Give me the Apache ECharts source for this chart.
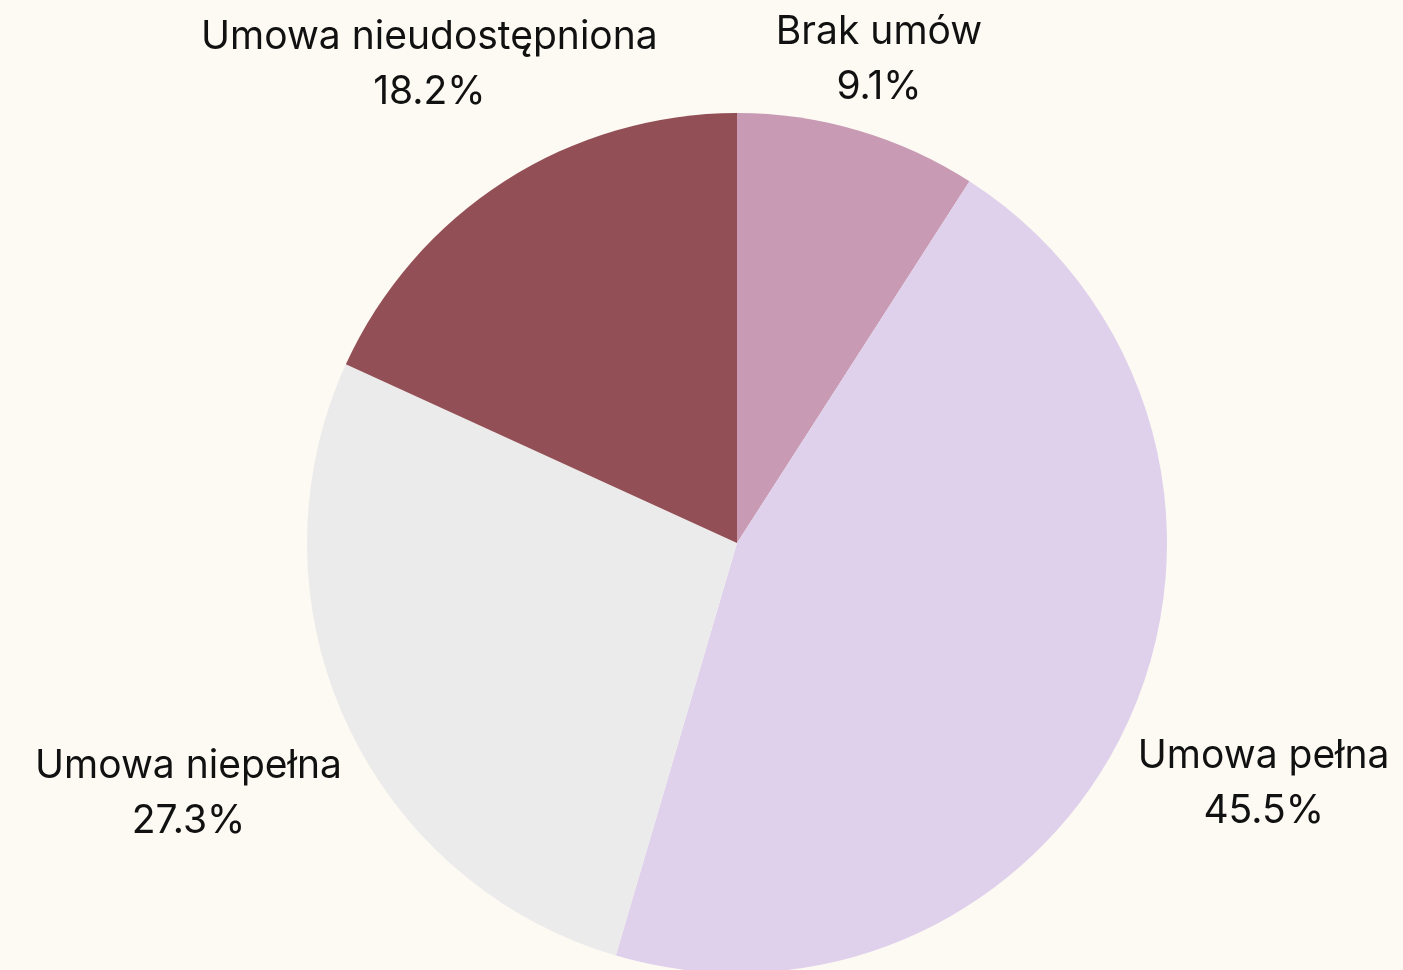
<!DOCTYPE html>
<html>
<head>
<meta charset="utf-8">
<script src="https://cdn.jsdelivr.net/npm/echarts@6/dist/echarts.min.js"></script>
<style>
  html, body { margin: 0; padding: 0; background: #fdfaf3; }
  #chart { width: 1403px; height: 970px; }
</style>
</head>
<body>
<div id="chart"></div>
<script>
// dane
const categories = ["Brak umów", "Umowa pełna", "Umowa niepełna", "Umowa nieudostępniona"];
const values = [1, 5, 3, 2];
const colors = ["#c89ab3", "#dfd1ec", "#ecebeb", "#924f56"];

const CX = 737, CY = 543, R = 430, GAP = 20;
const total = values.reduce((a, b) => a + b, 0);

// kat srodka wycinka (od gory, zgodnie z ruchem wskazowek)
function midAngle(i) {
  let before = 0;
  for (let k = 0; k < i; k++) before += values[k];
  return ((before + values[i] / 2) / total) * Math.PI * 2;
}

const chart = echarts.init(document.getElementById("chart"));
chart.setOption({
  backgroundColor: "#fdfaf3",
  series: [
    {
      type: "pie",
      center: [CX, CY],
      radius: R,
      startAngle: 90,
      clockwise: true,
      animation: false,
      data: categories.map((name, i) => ({
        name: name,
        value: values[i],
        itemStyle: { color: colors[i] },
      })),
      label: {
        show: true,
        position: "outside",
        formatter: (p) => p.name + "\n" + p.percent.toFixed(1) + "%",
        fontFamily: "Inter",
        fontSize: 39,
        lineHeight: 55,
        color: "#111",
        align: "center",
        overflow: "none",
        edgeDistance: 0,
      },
      labelLine: { show: false },
      labelLayout: (params) => {
        const a = midAngle(params.dataIndex);
        const ux = Math.sin(a), uy = -Math.cos(a);
        // ciasniejsza ramka tekstu niz pudelko lineHeight
        const w = params.labelRect.width / 2, h = params.labelRect.height / 2 - 20;
        // przesuwamy etykiete promieniowo, az najblizszy rog dotknie okregu + odstep
        let t = R;
        for (let s = 0; s < 2000; s++) {
          const qx = ux * t - Math.sign(ux) * w;
          const qy = uy * t - Math.sign(uy) * h;
          if (Math.hypot(qx, qy) >= R + GAP) break;
          t += 1;
        }
        return {
          x: CX + ux * t,
          y: CY + uy * t,
          align: "center",
          verticalAlign: "middle",
        };
      },
    },
  ],
});
</script>
</body>
</html>
